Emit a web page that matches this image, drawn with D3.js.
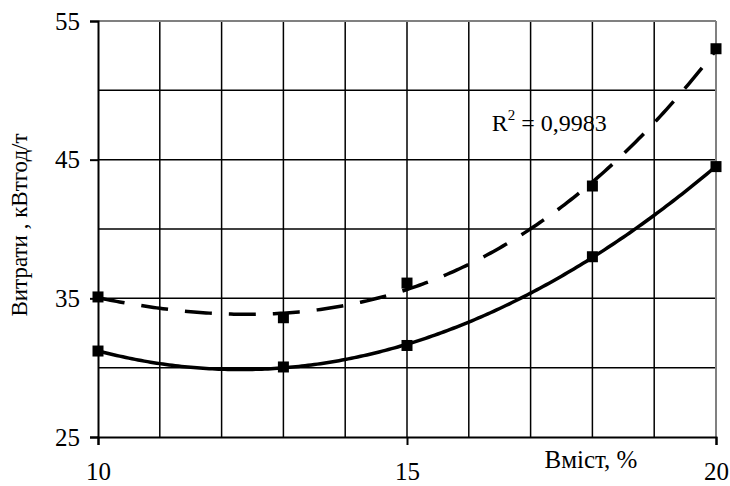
<!DOCTYPE html>
<html>
<head>
<meta charset="utf-8">
<script src="https://cdn.jsdelivr.net/npm/d3@7"></script>
<style>
    html, body { margin: 0; padding: 0; background: #fff; }
    svg { display: block; }
</style>
</head>
<body>
<svg id="chart" width="730" height="486"></svg>
<script>
// Data
const contentX   = [10, 13, 15, 18, 20];
const lossSolid  = [31.2, 30.05, 31.6, 38.0, 44.5];
const lossDashed = [35.1, 33.6, 36.1, 43.1, 53.0];
const xTicks = [10, 15, 20];
const yTicks = [25, 35, 45, 55];
const xGrid = d3.range(11, 20);
const yGrid = [30, 35, 40, 45, 50];
const r2Text = "0,9983";

const SERIF = "Liberation Serif";

const svg = d3.select("#chart");
const margin = { left: 98, right: 14, top: 21, bottom: 49 };
const W = 730, H = 486;

const x = d3.scaleLinear().domain([10, 20]).range([margin.left, W - margin.right]);
const y = d3.scaleLinear().domain([25, 55]).range([H - margin.bottom, margin.top]);

// least squares polynomial (Excel style trend line)
function polyfit(xs, ys, order) {
    const n = order + 1;
    const A = [], b = [];
    for (let i = 0; i < n; i++) {
        A.push(new Array(n).fill(0));
        b.push(0);
    }
    xs.forEach((xv, k) => {
        for (let i = 0; i < n; i++) {
            for (let j = 0; j < n; j++) A[i][j] += Math.pow(xv, i + j);
            b[i] += ys[k] * Math.pow(xv, i);
        }
    });
    for (let i = 0; i < n; i++) {
        let p = i;
        for (let r = i + 1; r < n; r++) if (Math.abs(A[r][i]) > Math.abs(A[p][i])) p = r;
        [A[i], A[p]] = [A[p], A[i]];
        [b[i], b[p]] = [b[p], b[i]];
        for (let r = i + 1; r < n; r++) {
            const f = A[r][i] / A[i][i];
            for (let c = i; c < n; c++) A[r][c] -= f * A[i][c];
            b[r] -= f * b[i];
        }
    }
    const coef = new Array(n).fill(0);
    for (let i = n - 1; i >= 0; i--) {
        let s = b[i];
        for (let c = i + 1; c < n; c++) s -= A[i][c] * coef[c];
        coef[i] = s / A[i][i];
    }
    return xv => coef.reduce((acc, c, i) => acc + c * Math.pow(xv, i), 0);
}

const g = svg.append("g");

// grid
g.selectAll("line.vgrid").data(xGrid).join("line")
    .attr("x1", d => x(d)).attr("x2", d => x(d))
    .attr("y1", y(25)).attr("y2", y(55))
    .attr("stroke", "#000").attr("stroke-width", 1.5);
g.selectAll("line.hgrid").data(yGrid).join("line")
    .attr("x1", x(10)).attr("x2", x(20))
    .attr("y1", d => y(d)).attr("y2", d => y(d))
    .attr("stroke", "#000").attr("stroke-width", 1.5);

// gray frame top/right
g.append("line").attr("x1", x(10)).attr("x2", x(20)).attr("y1", y(55)).attr("y2", y(55))
    .attr("stroke", "#808080").attr("stroke-width", 2);
g.append("line").attr("x1", x(20)).attr("x2", x(20)).attr("y1", y(55)).attr("y2", y(25))
    .attr("stroke", "#808080").attr("stroke-width", 2);

// axes
const xAxis = g.append("g").attr("transform", `translate(0,${y(25)})`)
    .call(d3.axisBottom(x).tickValues(xTicks).tickSize(8).tickPadding(17).tickFormat(d3.format("d")));
const yAxis = g.append("g").attr("transform", `translate(${x(10)},0)`)
    .call(d3.axisLeft(y).tickValues(yTicks).tickSize(8).tickPadding(10).tickFormat(d3.format("d")));
[xAxis, yAxis].forEach(a => {
    a.attr("font-family", SERIF).attr("font-size", 25);
    a.select(".domain").attr("stroke", "#000").attr("stroke-width", 2);
    a.selectAll(".tick line").attr("stroke", "#000").attr("stroke-width", 2);
    a.selectAll(".tick text").attr("fill", "#000");
});

// curves
const line = d3.line().x(d => x(d[0])).y(d => y(d[1]));
const samples = d3.range(10, 20.001, 0.05);

const fitSolid = polyfit(contentX, lossSolid, 3);
const fitDashed = polyfit(contentX, lossDashed, 3);

g.append("path")
    .attr("d", line(samples.map(v => [v, fitDashed(v)])))
    .attr("fill", "none").attr("stroke", "#000").attr("stroke-width", 3.5)
    .attr("stroke-dasharray", "27,17");
g.append("path")
    .attr("d", line(samples.map(v => [v, fitSolid(v)])))
    .attr("fill", "none").attr("stroke", "#000").attr("stroke-width", 3.5);

// markers
const ms = 11;
[lossSolid, lossDashed].forEach(series => {
    g.selectAll(null).data(contentX).join("rect")
        .attr("x", (d) => x(d) - ms / 2)
        .attr("y", (d, i) => y(series[i]) - ms / 2)
        .attr("width", ms).attr("height", ms)
        .attr("fill", "#000");
});

// R^2 label
const r2 = g.append("text")
    .attr("x", x(16.37)).attr("y", y(47.1))
    .attr("font-family", SERIF)
    .attr("font-size", 24).attr("fill", "#000");
r2.append("tspan").text("R");
r2.append("tspan").attr("dy", -11).attr("font-size", 15).text("2");
r2.append("tspan").attr("dy", 11).text(" = " + r2Text);

// axis titles
g.append("text")
    .attr("x", 591).attr("y", 468)
    .attr("text-anchor", "middle")
    .attr("font-family", SERIF)
    .attr("font-size", 25).text("Вміст, %");
g.append("text")
    .attr("transform", "translate(27,225) rotate(-90)")
    .attr("text-anchor", "middle")
    .attr("font-family", SERIF)
    .attr("font-size", 23).text("Витрати , кВтгод/т");
</script>
</body>
</html>
